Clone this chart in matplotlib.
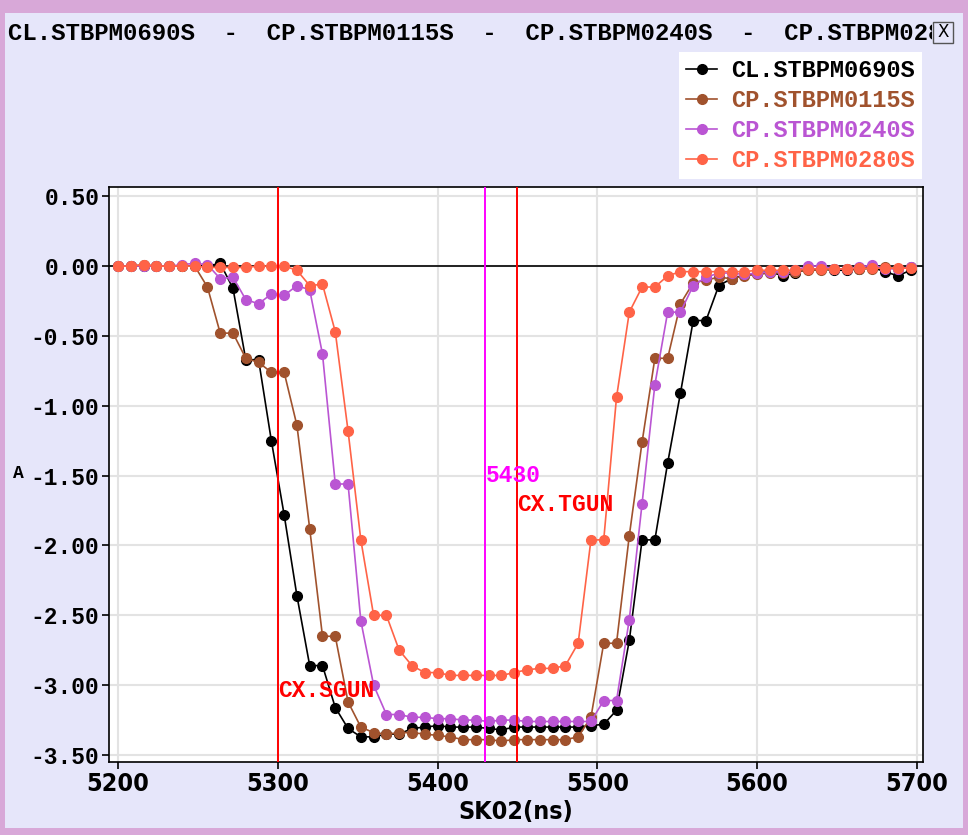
import numpy as np
import matplotlib
matplotlib.use('Agg')
import matplotlib.pyplot as plt
from matplotlib.patches import Rectangle

# sample times (ns), one sample every 8 ns
t_ns = np.arange(5200, 5704, 8)

cl_0690 = [0, 0, 0, 0, 0, 0, 0, 0, 0.02, -0.16,
           -0.67, -0.67, -1.25, -1.78, -2.36, -2.86, -2.86, -3.16, -3.31, -3.37,
           -3.37, -3.35, -3.35, -3.31, -3.30, -3.29, -3.30, -3.30, -3.30, -3.31,
           -3.32, -3.30, -3.30, -3.30, -3.30, -3.30, -3.30, -3.29, -3.28, -3.18,
           -2.68, -1.96, -1.96, -1.41, -0.91, -0.39, -0.39, -0.14, -0.09, -0.065,
           -0.05, -0.04, -0.07, -0.05, -0.02, -0.02, -0.03, -0.03, -0.02, -0.01,
           -0.04, -0.07, -0.03]
cp_0115 = [0, 0, 0.01, 0, 0, 0, 0, -0.15, -0.48, -0.48,
           -0.66, -0.69, -0.76, -0.76, -1.14, -1.88, -2.65, -2.65, -3.12, -3.30,
           -3.34, -3.35, -3.34, -3.34, -3.35, -3.36, -3.37, -3.39, -3.39, -3.39,
           -3.40, -3.39, -3.39, -3.39, -3.39, -3.39, -3.37, -3.23, -2.70, -2.70,
           -1.93, -1.26, -0.66, -0.66, -0.27, -0.12, -0.10, -0.08, -0.09, -0.07,
           -0.06, -0.05, -0.05, -0.04, -0.03, -0.03, -0.02, -0.02, -0.02, -0.02,
           -0.01, -0.02, -0.01]
cp_0240 = [0, 0, 0, 0, 0, 0.01, 0.02, 0.01, -0.09, -0.08,
           -0.24, -0.27, -0.20, -0.21, -0.14, -0.17, -0.63, -1.56, -1.56, -2.54,
           -3.00, -3.21, -3.21, -3.23, -3.23, -3.24, -3.24, -3.25, -3.25, -3.26,
           -3.25, -3.25, -3.26, -3.26, -3.26, -3.26, -3.26, -3.26, -3.11, -3.11,
           -2.53, -1.70, -0.85, -0.33, -0.33, -0.14, -0.08, -0.05, -0.05, -0.06,
           -0.05, -0.04, -0.04, -0.03, 0.00, 0.00, -0.02, -0.02, -0.01, 0.01,
           -0.02, -0.02, -0.01]
cp_0280 = [0, 0, 0.01, 0, 0, 0, 0, -0.01, -0.01, -0.01,
           -0.01, 0, 0, 0, -0.03, -0.14, -0.13, -0.47, -1.18, -1.96,
           -2.50, -2.50, -2.75, -2.86, -2.91, -2.91, -2.93, -2.93, -2.93, -2.93,
           -2.93, -2.91, -2.89, -2.88, -2.88, -2.86, -2.70, -1.96, -1.96, -0.94,
           -0.33, -0.15, -0.15, -0.07, -0.04, -0.04, -0.04, -0.04, -0.04, -0.04,
           -0.03, -0.03, -0.03, -0.03, -0.02, -0.02, -0.02, -0.02, -0.015, -0.015,
           -0.015, -0.015, -0.015]

names = ['CL.STBPM0690S', 'CP.STBPM0115S', 'CP.STBPM0240S', 'CP.STBPM0280S']
colors = ['#000000', '#A0522D', '#BA55D3', '#FF6347']
series = [cl_0690, cp_0115, cp_0240, cp_0280]

markers_t = [5300, 5430, 5450]
marker_lbl = ['CX.SGUN', '5430', 'CX.TGUN']
marker_col = ['#FF0000', '#FF00FF', '#FF0000']
marker_y = [-3.04, -1.50, -1.71]

mono = 'Liberation Mono'
cond = {'family': 'DejaVu Sans', 'stretch': 'condensed', 'weight': 'bold'}

fig = plt.figure(figsize=(9.68, 8.35), dpi=100)
fig.patch.set_facecolor('#E6E6FA')

# window frame
frame = '#D8A8D8'
fig.patches.append(Rectangle((0, 0.985), 1, 0.015, transform=fig.transFigure,
                             facecolor=frame, edgecolor='none'))
fig.patches.append(Rectangle((0, 0), 0.005, 1, transform=fig.transFigure,
                             facecolor=frame, edgecolor='none'))
fig.patches.append(Rectangle((0.995, 0), 0.005, 1, transform=fig.transFigure,
                             facecolor=frame, edgecolor='none'))
fig.patches.append(Rectangle((0, 0), 1, 0.008, transform=fig.transFigure,
                             facecolor=frame, edgecolor='none'))

# title row, clipped before the close button
tax = fig.add_axes([8 / 968, 0.935, 924 / 968, 0.05])
tax.axis('off')
tax.text(0.0, 0.5, '  -  '.join(names), fontsize=17.3, fontfamily=mono,
         fontweight='bold', va='center', ha='left', clip_on=True)
fig.patches.append(Rectangle((933 / 968, 1 - 43 / 835), 20 / 968, 21 / 835,
                             transform=fig.transFigure, facecolor='#E6E6FA',
                             edgecolor='#555555', lw=1))
fig.text(943 / 968, 1 - 32 / 835, 'X', fontsize=12, fontfamily='DejaVu Sans',
         ha='center', va='center')

ax = fig.add_axes([109 / 968, 1 - 762 / 835, 814 / 968, 575 / 835])
ax.set_facecolor('white')
ax.axhline(0, color='black', lw=1.2, zorder=1)
for name, col, vals in zip(names, colors, series):
    ax.plot(t_ns, vals, color=col, marker='o', ms=7, lw=1.2, label=name, zorder=3)

for t, lbl, col, yv in zip(markers_t, marker_lbl, marker_col, marker_y):
    ax.axvline(t, color=col, lw=1.4, zorder=4)
    ax.text(t, yv, lbl, color=col, fontsize=16.5, fontfamily=mono,
            fontweight='bold', ha='left', va='center', zorder=5)

ax.set_xlim(5194.4, 5703.8)
ax.set_ylim(-3.55, 0.566)
ax.set_xticks([5200, 5300, 5400, 5500, 5600, 5700])
ax.set_yticks(np.arange(0.5, -3.51, -0.5))
ax.set_yticklabels(['%.2f' % v for v in np.arange(0.5, -3.51, -0.5)])
ax.grid(True, color='#E3E3E3', lw=1.5, zorder=0)
ax.set_axisbelow(True)
for s in ax.spines.values():
    s.set_color('black')
    s.set_linewidth(1.2)
ax.tick_params(direction='out', length=5, width=1.2, pad=2)
for lab in ax.get_yticklabels():
    lab.set_fontfamily(mono)
    lab.set_fontweight('bold')
    lab.set_fontsize(16.5)
for lab in ax.get_xticklabels():
    lab.set_fontproperties(cond)
    lab.set_fontsize(18)
ax.set_xlabel('SK02(ns)', fontdict=dict(cond, size=18), labelpad=3)
fig.text(13 / 968, 1 - 474 / 835, 'A', fontfamily=mono, fontweight='bold',
         fontsize=13, ha='left', va='center')

leg = fig.legend(loc='upper right', bbox_to_anchor=(922 / 968, 1 - 52 / 835),
                 prop={'family': mono, 'weight': 'bold', 'size': 17},
                 labelcolor='linecolor', frameon=True, fancybox=False,
                 framealpha=1, facecolor='white', edgecolor='none',
                 handlelength=1.3, handletextpad=0.6, labelspacing=0.3,
                 borderpad=0.3, borderaxespad=0)

fig.savefig('out.png', dpi=100, facecolor=fig.get_facecolor())
